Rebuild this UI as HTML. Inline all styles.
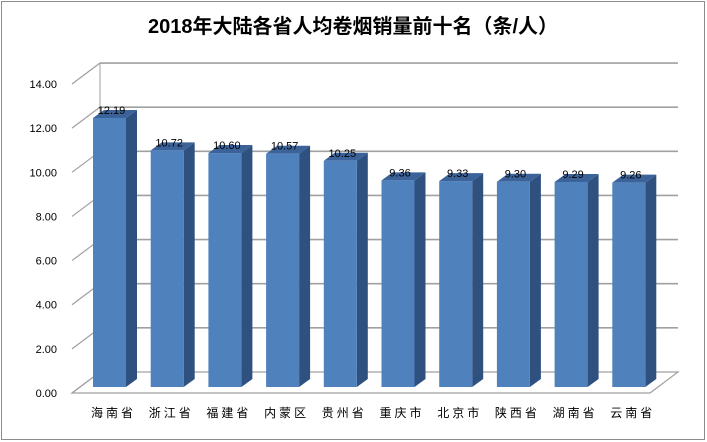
<!DOCTYPE html>
<html><head><meta charset="utf-8">
<style>
html,body{margin:0;padding:0;background:#fff;}
svg{display:block;font-family:"Liberation Sans","Noto Sans CJK SC",sans-serif;}
</style></head>
<body>
<svg id="chart" width="707" height="442" viewBox="0 0 707 442">
<rect x="1.5" y="1.5" width="703" height="438" fill="#fff" stroke="#8c8c8c" stroke-width="1"/>
<text x="353" y="33" text-anchor="middle" font-size="20" font-weight="bold" fill="#000">2018年大陆各省人均卷烟销量前十名（条/人）</text>
<g id="grid"></g>
<g id="ylabels"></g>
<g id="bars"></g>
<g id="xlabels"></g>
</svg>
<script>
const categories = ["海南省","浙江省","福建省","内蒙区","贵州省","重庆市","北京市","陕西省","湖南省","云南省"];
const values = [12.19,10.72,10.60,10.57,10.25,9.36,9.33,9.30,9.29,9.26];
const yTicks = [0,2,4,6,8,10,12,14];
const yTickLabels = ["0.00","2.00","4.00","6.00","8.00","10.00","12.00","14.00"];

const NS="http://www.w3.org/2000/svg";
const ppu = 22.07;
const frontX0=72, frontY0=393, DX=28, DY=-21, backRight=678, frontRight=650;
function yFront(v){return frontY0 - v*ppu;}
function yBack(v){return frontY0+DY - v*ppu;}
function mk(tag,attrs,parent){const e=document.createElementNS(NS,tag);for(const k in attrs)e.setAttribute(k,attrs[k]);parent.appendChild(e);return e;}

const grid=document.getElementById('grid');
// floor
const floor=mk('polygon',{points:`${frontX0},${frontY0} ${frontX0+DX},${yBack(0)} ${backRight},${yBack(0)} ${frontRight},${frontY0}`,fill:'#fff',stroke:'#a0a0a0','stroke-width':1.2},grid);


mk('line',{x1:frontX0+DX,y1:yBack(0),x2:frontX0+DX,y2:yBack(yTicks[yTicks.length-1]),stroke:'#a0a0a0','stroke-width':1},grid);
yTicks.forEach((t,i)=>{
  const g=mk('g',{},grid);
  
  
  mk('line',{x1:frontX0,y1:yFront(t),x2:frontX0+DX,y2:yBack(t),stroke:'#a0a0a0','stroke-width':1.2},g);
  if(t>0) mk('line',{x1:frontX0+DX,y1:yBack(t),x2:backRight,y2:yBack(t),stroke:'#a0a0a0','stroke-width':1.6},g);
  const tx=mk('text',{x:57,y:yFront(t)+4,'text-anchor':'end','font-size':11,fill:'#000'},document.getElementById('ylabels'));
  tx.textContent=yTickLabels[i];
  
  
});

const bars=document.getElementById('bars'), xl=document.getElementById('xlabels');
const x0=93, step=57.7, bw=33, bdx=11, bdy=-8, baseY=387;
values.forEach((v,i)=>{
  const x=x0+i*step, top=baseY - v*ppu;
  const g=mk('g',{},bars);
  
  
  mk('polygon',{points:`${x+bw},${baseY} ${x+bw},${top} ${x+bw+bdx},${top+bdy} ${x+bw+bdx},${baseY+bdy}`,fill:'#2f5180'},g);
  mk('polygon',{points:`${x},${top} ${x+bdx},${top+bdy} ${x+bw+bdx},${top+bdy} ${x+bw},${top}`,fill:'#3b639a'},g);
  mk('rect',{x:x,y:top,width:bw,height:baseY-top,fill:'#4f81bd'},g);
  const lb=mk('text',{x:x+bw/2+2,y:top-4,'text-anchor':'middle','font-size':11,fill:'#000'},g);
  lb.textContent=v.toFixed(2);
  
  
  const c=mk('text',{x:x+bw/2+4,y:417,'text-anchor':'middle','font-size':12,'letter-spacing':3,fill:'#000'},xl);
  c.textContent=categories[i];
  
  
});
</script>
</body></html>
